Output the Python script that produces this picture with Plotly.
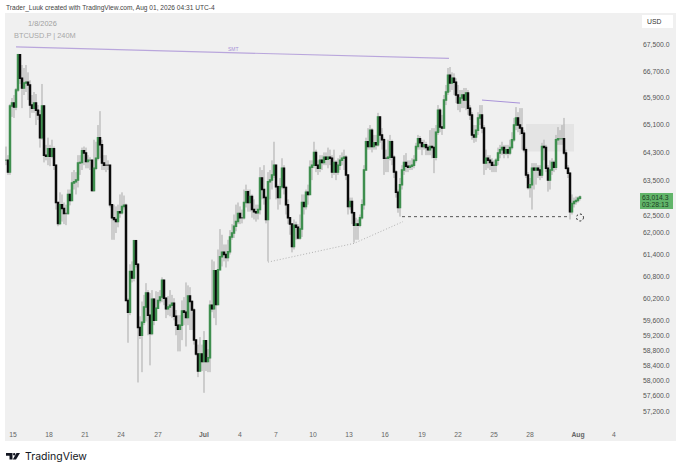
import math
import plotly.graph_objects as go

# 4h bars (open = previous close)
closes = [64070,63730,65660,65750,65630,66140,67200,66490,66200,66350,
	66370,66290,65690,65600,65750,65540,65400,64730,65660,64220,
	64190,64410,64190,64410,63930,62860,62270,62800,62690,62550,
	62550,63090,62920,63420,63450,63500,63990,64010,64350,64280,
	64040,64070,64070,63200,63840,64130,64730,64520,63990,63930,
	63930,63930,62800,62430,62380,62320,62600,62570,62750,62780,
	60140,59820,60930,60750,61780,61130,59410,59200,59550,59960,
	60340,59740,59250,60170,59600,59930,60140,60230,60690,60200,
	59910,59960,60010,60060,59710,59470,59360,59470,59850,59820,
	59680,60260,60110,59880,59070,58700,58250,58700,58500,59050,
	58500,58600,60010,59910,60950,60030,60980,61340,61460,61400,
	61320,61480,61890,62000,62190,62320,62550,62430,62430,62860,
	63170,62860,63030,62660,62600,62570,62660,63560,63230,63000,
	62380,63450,63500,63650,63930,63310,63000,63310,63840,63290,
	62800,62430,62250,61620,62220,62160,61860,62110,62860,62750,
	63150,63090,63870,63930,64300,63930,63840,64070,64010,64160,
	64100,64160,64130,63730,64010,63730,63930,64070,64130,64160,
	63650,62750,62890,62570,62220,62250,62220,62430,62800,63790,
	64610,64470,64950,64470,64580,64520,65340,64810,64670,64130,
	64130,64160,64610,64160,63730,63150,62720,63370,63790,64010,
	63900,63870,63900,63930,64070,64470,64700,64580,64470,64520,
	64440,64380,64470,64440,64160,64890,65540,65040,65010,65840,
	66080,66580,66350,66490,66370,65990,65750,65900,65990,65840,
	66050,65600,65400,64810,64750,64950,65310,65400,65010,63990,
	64130,64070,64010,63930,63930,64070,64280,64380,64440,64280,
	64380,64280,64440,64670,65100,65310,65100,65010,64860,64380,
	63650,63290,63370,63840,63790,63840,63790,63650,64470,64440,
	63840,63500,63790,64010,63870,64670,64700,64700,64700,64280,
	63840,63700,62600,62830,62890,62920,62980,63014]
highs = [64470,64220,65720,65900,65990,66200,67230,66730,66890,66800,
	66890,66670,66430,65990,66080,66020,65690,65540,66320,65690,
	64520,64730,64520,64670,64470,63930,62860,63150,63090,62860,
	62800,63230,63230,63730,63790,63730,64220,64220,64440,64470,
	64440,64220,64160,64070,64670,64610,65100,65510,64670,64220,
	64220,64070,63930,62800,62800,62750,62800,63090,63150,63060,
	62830,60200,61130,61210,61810,61810,61130,59710,60110,60290,
	60610,60420,60340,60420,60200,60390,60370,60420,60770,60690,
	60230,60260,60420,60290,60200,59880,59740,59740,60140,60230,
	60630,60550,60500,60140,59930,59070,58950,59150,58950,59310,
	59070,58830,60140,61260,61210,60950,61540,62110,61950,61680,
	61680,61810,62080,62250,62520,62800,62860,62750,62660,63230,
	63370,63230,63230,63090,62950,62800,62800,63870,63790,63930,
	63060,63730,63790,64070,64610,63930,63370,63560,64130,63930,
	63340,62950,62430,62250,62380,62320,62250,62520,63090,63090,
	63230,63370,64070,64070,64610,64380,64070,64220,64220,64300,
	64300,64440,64380,64220,64380,64070,64130,64220,64300,64380,
	64220,63650,63000,63000,62600,62430,62380,62520,62950,63930,
	64730,65010,65100,65010,64810,64810,65460,65340,65010,64730,
	64380,64670,64810,64670,64220,63790,63230,63560,63930,64220,
	64280,64070,64070,64130,64220,64580,64810,64780,64670,64670,
	64610,64520,64950,65010,65010,65100,65690,65600,65400,65990,
	66290,66800,66830,66670,66640,66490,66290,66140,66140,66200,
	66200,66140,65690,65480,65100,65100,65480,65690,65690,65100,
	64380,64220,64220,64130,64070,64130,64440,64520,64610,64520,
	64520,64520,64670,64890,65310,65630,65480,65600,65600,64950,
	64440,63730,63560,63990,63990,63990,63930,63930,64580,64670,
	64520,63930,64070,64130,64070,64810,65040,64950,65100,65310,
	64380,63930,63730,63090,63000,63030,63030,63060]
lows = [63930,63650,63650,65340,65310,65540,66080,66320,65600,65990,
	66080,65840,65310,65460,65460,65100,65250,64440,64670,64010,
	64070,63930,63900,64130,63790,62660,62190,62220,62320,62250,
	62220,62520,62780,62920,63230,63090,63290,63650,63790,63930,
	63840,63840,63790,63170,63170,63790,64070,64130,63790,63790,
	63730,63790,62720,61810,61810,62000,62160,62430,62520,62660,
	60140,59000,59740,60630,60660,61040,57950,59100,58220,59470,
	59570,59200,58400,59200,59470,59820,59930,60060,60090,60010,
	59660,59740,59710,59660,59600,59200,58770,58770,59070,59470,
	58900,59470,59340,59340,58950,58650,58090,58250,58250,57680,
	58250,58220,58220,59820,59660,59470,60010,61040,61070,61210,
	61040,61210,61400,61810,61860,62050,62250,62250,62270,62380,
	62720,62600,62600,62430,62380,62320,62380,62520,62950,62800,
	62270,61210,62950,63230,63560,62950,62660,62800,63230,63090,
	62520,62250,61950,61460,61540,61810,61810,61810,61890,62520,
	62660,62800,63090,63500,63840,63730,63650,63730,63790,63930,
	63930,63840,63930,63560,63650,63500,63650,63790,63930,63790,
	63500,62520,62660,62250,61730,61810,61810,62160,62380,62660,
	63790,64380,64380,64300,64380,64380,64470,64580,64380,63650,
	63730,63730,64070,63930,63560,63000,62570,62460,63230,63650,
	63730,63730,63790,63790,63840,64010,64380,64380,64220,64380,
	64220,64220,64220,64130,63700,64070,64810,64890,64810,65160,
	65690,65990,66080,66140,65990,65750,65540,65480,65600,65600,
	65540,65400,65250,64670,64580,64610,64810,65100,64860,63650,
	63790,63840,63790,63730,63730,63730,63930,64130,64220,64130,
	64220,64130,64220,64380,64610,64950,64890,64810,64380,64300,
	63560,63230,63000,62660,63230,63370,63560,63500,63560,64070,
	63730,63170,63230,63650,63730,63790,64520,64520,64520,64220,
	63790,63560,62380,62520,62720,62800,62860,62920]
opens = [closes[0]] + closes[:-1]
bars = list(range(len(closes)))

price_ticks = [67500,66700,65900,65100,64300,63500,62500,62000,61400,60800,60200,59600,59200,58800,58400,58000,57600,57200]
date_labels = ['15','18','21','24','27','<b>Jul</b>','4','7','10','13','16','19','22','25','28','<b>Aug</b>','4']
date_bars = [3.5,21.5,39.5,57.5,76,99,117,135,153.5,171.5,189.5,208,226,244,262,286,304]

# drawings on the chart
smt_bars = [5,221.5]
smt_prices = [67440,67090]
smt2_bars = [238,257]
smt2_prices = [65840,65750]
level_bars = [198,282]
level_prices = [62460,62460]
trend_bars = [131,174,198.5]
trend_prices = [61190,61710,62320]

UP = '#3f8f4f'
DOWN = '#0b0b0b'
WICK = '#a9a9a9'
BG = '#f0f0f0'

#helpers: window pixels to paper coords (plot area runs 5..640, 13..441)
def px(x):
	return (x-5)/635
def py(y):
	return (441-y)/428

fig = go.Figure()

#wicks first, bodies over them
fig.add_trace(go.Candlestick(
	x=bars, open=opens, high=highs, low=lows, close=closes,
	increasing=dict(line=dict(color=WICK, width=1), fillcolor=WICK),
	decreasing=dict(line=dict(color=WICK, width=1), fillcolor=WICK),
	whiskerwidth=0, hoverinfo='skip'))
fig.add_trace(go.Candlestick(
	x=bars, open=opens, close=closes,
	high=[max(a,b) for a,b in zip(opens,closes)],
	low=[min(a,b) for a,b in zip(opens,closes)],
	increasing=dict(line=dict(color=UP, width=1.5), fillcolor=UP),
	decreasing=dict(line=dict(color=DOWN, width=1.5), fillcolor=DOWN),
	whiskerwidth=0, hoverinfo='skip'))

fig.add_trace(go.Scatter(x=smt_bars, y=smt_prices, mode='lines', line=dict(color='#b9a6dc', width=1.2), hoverinfo='skip'))
fig.add_trace(go.Scatter(x=smt2_bars, y=smt2_prices, mode='lines', line=dict(color='#a892d8', width=1), hoverinfo='skip'))
fig.add_trace(go.Scatter(x=level_bars, y=level_prices, mode='lines', line=dict(color='#444444', width=0.9, dash='3px,3px'), hoverinfo='skip'))
fig.add_trace(go.Scatter(x=trend_bars, y=trend_prices, mode='lines', line=dict(color='#b0b0b0', width=1, dash='1px,2px'), hoverinfo='skip'))

shapes = [
	#price axis strip
	dict(type='rect', xref='paper', yref='paper', x0=1, x1=px(676), y0=0, y1=1,
		fillcolor=BG, line=dict(width=0), layer='below'),
	#fair value box
	dict(type='rect', xref='x', yref='y', x0=260, x1=284, y0=64330, y1=65130,
		fillcolor='#e4e4e4', line=dict(width=0), layer='below'),
	#USD button
	dict(type='rect', xref='paper', yref='paper', x0=px(642), x1=px(673), y0=py(28), y1=py(15),
		fillcolor='#ffffff', line=dict(width=0)),
	#last price tag
	dict(type='rect', xref='paper', yref='paper', x0=px(640), x1=px(673), y0=py(209), y1=py(193),
		fillcolor='#62b56a', line=dict(width=0)),
	#loading circle
	dict(type='circle', xref='paper', yref='paper', x0=px(576.5), x1=px(583.5), y0=py(221), y1=py(214),
		fillcolor='rgba(0,0,0,0)', line=dict(color='#222222', width=1, dash='2px,2px')),
	#tradingview logo
	dict(type='path', xref='paper', yref='paper', fillcolor='#131722', line=dict(width=0),
		path='M %f %f L %f %f L %f %f L %f %f L %f %f L %f %f Z' % (
			px(6),py(453),px(12.5),py(453),px(12.5),py(459.5),px(9.5),py(459.5),px(9.5),py(455.7),px(6),py(455.7))),
	dict(type='circle', xref='paper', yref='paper', fillcolor='#131722', line=dict(width=0),
		x0=px(13), x1=px(15.4), y0=py(455.5), y1=py(453)),
	dict(type='path', xref='paper', yref='paper', fillcolor='#131722', line=dict(width=0),
		path='M %f %f L %f %f L %f %f L %f %f Z' % (
			px(16.5),py(453),px(20),py(453),px(16),py(459.5),px(12.8),py(459.5))),
]

def note(x, y, text, size, color, anchor='left', family='Liberation Sans'):
	return dict(xref='paper', yref='paper', x=px(x), y=py(y), text=text, showarrow=False,
		xanchor=anchor, yanchor='middle', borderpad=0, font=dict(family=family, size=size, color=color))

annotations = [
	note(5, 8, 'Trader_Luuk created with TradingView.com, Aug 01, 2026 04:31 UTC-4', 6.6, '#444444'),
	note(27, 24, '1/8/2026', 7.4, '#a0a0a0'),
	note(13, 36, 'BTCUSD.P | 240M', 7.4, '#a8a8a8'),
	note(233, 48.5, 'SMT', 5, '#a892d8', 'center'),
	note(646, 21.5, 'USD', 6.8, '#333333'),
	note(670, 197.5, '63,014.3', 6.8, '#1c3d22', 'right'),
	note(670, 204.5, '03:28:13', 6.8, '#1c3d22', 'right'),
	note(24, 456, 'TradingView', 10.5, '#131722', 'left', 'Inter'),
]

fig.update_layout(
	width=680, height=471,
	margin=dict(l=5, r=40, t=13, b=30),
	paper_bgcolor='#ffffff',
	plot_bgcolor=BG,
	showlegend=False,
	shapes=shapes,
	annotations=annotations,
	font=dict(family='Liberation Sans'),
	xaxis=dict(
		range=[-0.5,317],
		rangeslider=dict(visible=False),
		showgrid=False, zeroline=False, showline=False,
		tickmode='array', tickvals=date_bars, ticktext=date_labels,
		ticks='', ticklabelposition='inside',
		tickfont=dict(size=6.8, color='#666666')),
	yaxis=dict(
		type='log',
		range=[math.log10(56437), math.log10(68482)],
		side='right',
		showgrid=False, zeroline=False, showline=False,
		tickmode='array', tickvals=price_ticks,
		ticktext=['{:,.1f}'.format(p) for p in price_ticks],
		ticks='', ticklabelstandoff=2,
		tickfont=dict(size=6.8, color='#555555')),
)

fig.write_html("out.html", config={'displayModeBar': False},
	post_script="document.body.style.margin='0';")
